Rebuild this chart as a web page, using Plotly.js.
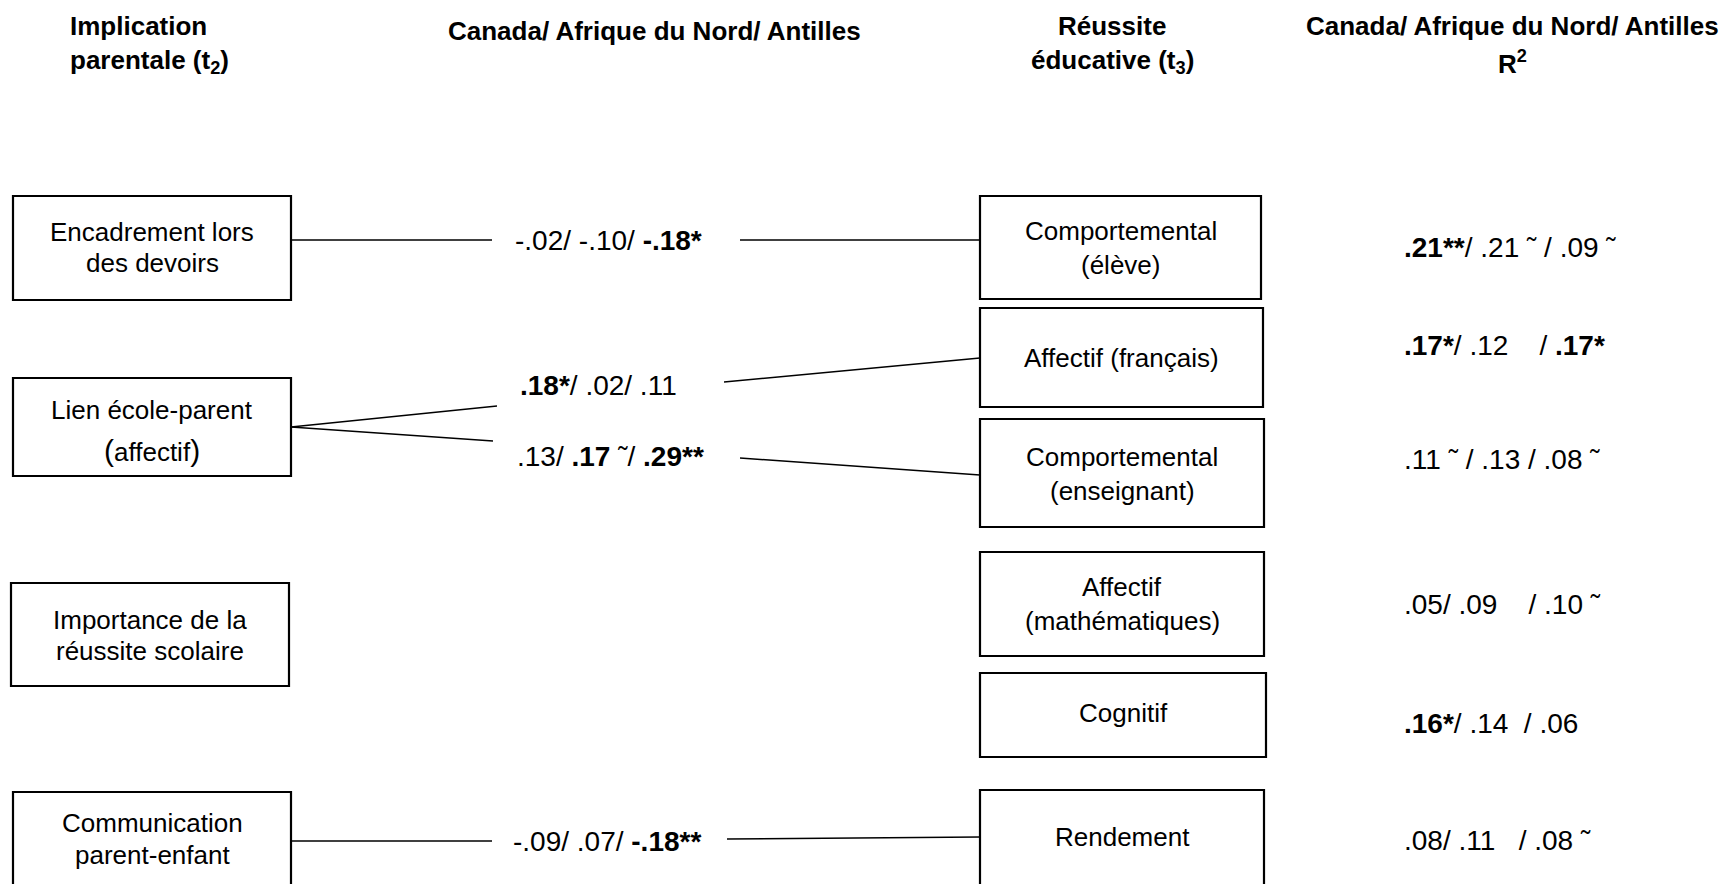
<!DOCTYPE html>
<html><head><meta charset="utf-8">
<script src="https://cdn.plot.ly/plotly-3.0.1.min.js"></script>
<style>html,body{margin:0;padding:0;background:#fff;overflow:hidden}</style>
</head><body><div id="chart" style="width:1728px;height:884px"></div>
<script>
// ---- data ----
const columnHeaders = ['Implication<br>parentale (t<sub>2</sub>)', 'Canada/ Afrique du Nord/ Antilles', 'Réussite<br>éducative (t<sub>3</sub>)', 'Canada/ Afrique du Nord/ Antilles<br>R<sup>2</sup>'];
const predictors = ['Encadrement lors<br>des devoirs', 'Lien école-parent<br>(affectif)', 'Importance de la<br>réussite scolaire', 'Communication<br>parent-enfant'];
const outcomes = ['Comportemental<br>(élève)', 'Affectif (français)', 'Comportemental<br>(enseignant)', 'Affectif<br>(mathématiques)', 'Cognitif', 'Rendement'];
const pathFrom = [0, 1, 1, 3];
const pathTo = [0, 1, 2, 5];
const pathCoefs = ['-.02/ -.10/ <b>-.18*</b>', '<b>.18*</b>/ .02/ .11', '.13/ <b>.17</b> ˜/ <b>.29**</b>', '-.09/ .07/ <b>-.18**</b>'];
const r2Values = ['<b>.21**</b>/ .21 ˜ / .09 ˜', '<b>.17*</b>/ .12\u00A0\u00A0\u00A0 / <b>.17*</b>', '.11 ˜ / .13 / .08 ˜', '.05/ .09\u00A0\u00A0\u00A0 / .10 ˜', '<b>.16*</b>/ .14\u00A0 / .06', '.08/ .11\u00A0\u00A0 / .08 ˜'];

// ---- layout geometry ----
const W = 1728, H = 884;
const FONT = 'Liberation Sans, Arial, sans-serif';
const predBoxes = [
  {x0: 13, x1: 291, y0: 196, y1: 300, lines: [232, 263]},
  {x0: 13, x1: 291, y0: 378, y1: 476, lines: [410, 450]},
  {x0: 11, x1: 289, y0: 583, y1: 686, lines: [620, 651]},
  {x0: 13, x1: 291, y0: 792, y1: 900, lines: [823, 855]}
];
const outBoxes = [
  {x0: 980, x1: 1261, y0: 196, y1: 299, lines: [231, 265]},
  {x0: 980, x1: 1263, y0: 308, y1: 407, lines: [358]},
  {x0: 980, x1: 1264, y0: 419, y1: 527, lines: [457, 491]},
  {x0: 980, x1: 1264, y0: 552, y1: 656, lines: [587, 621]},
  {x0: 980, x1: 1266, y0: 673, y1: 757, lines: [713]},
  {x0: 980, x1: 1264, y0: 790, y1: 900, lines: [837]}
];
const pathGeom = [
  {y0: 240, gapL: [492, 240], label: [608, 240], gapR: [740, 240], y1: 240},
  {y0: 427, gapL: [497, 406], label: [598, 385], gapR: [724, 382], y1: 358},
  {y0: 427, gapL: [493, 441], label: [610, 456], gapR: [740, 458], y1: 475},
  {y0: 841, gapL: [492, 841], label: [607, 841], gapR: [727, 839], y1: 837}
];
const r2X = 1402;
const r2Y = [247, 345, 459, 604, 723, 840];

const shapes = [];
const annotations = [];
function txt(x, y, text, size, anchor, bold) {
  annotations.push({x: x, y: y, xref: 'x', yref: 'y', text: bold ? '<b>' + text + '</b>' : text,
    showarrow: false, xanchor: anchor || 'center', yanchor: 'middle',
    font: {family: FONT, size: size, color: '#000'}});
}
function box(b, label) {
  shapes.push({type: 'rect', xref: 'x', yref: 'y', x0: b.x0, x1: b.x1, y0: b.y0, y1: b.y1,
    line: {color: '#000', width: 2.2}, fillcolor: 'rgba(0,0,0,0)', layer: 'above'});
  const parts = label.split('<br>');
  parts.forEach((p, i) => {
    // the reference draws the parentheses of "(affectif)" slightly larger
    const t = p === '(affectif)' ? '<span style="font-size:30px">(</span>affectif<span style="font-size:30px">)</span>' : p;
    txt((b.x0 + b.x1) / 2, b.lines[i], t, 26);
  });
}
function seg(x0, y0, x1, y1) {
  shapes.push({type: 'line', xref: 'x', yref: 'y', x0: x0, y0: y0, x1: x1, y1: y1,
    line: {color: '#000', width: 1.5}});
}

predictors.forEach((p, i) => box(predBoxes[i], p));
outcomes.forEach((o, i) => box(outBoxes[i], o));

pathCoefs.forEach((c, i) => {
  const g = pathGeom[i];
  const from = predBoxes[pathFrom[i]], to = outBoxes[pathTo[i]];
  seg(from.x1, g.y0, g.gapL[0], g.gapL[1]);
  seg(g.gapR[0], g.gapR[1], to.x0, g.y1);
  txt(g.label[0], g.label[1], c, 28);
});

r2Values.forEach((r, i) => txt(r2X, r2Y[i], r, 28, 'left'));

// headers
const h0 = columnHeaders[0].split('<br>');
txt(68, 26, h0[0], 26, 'left', true);
txt(68, 61, h0[1], 26, 'left', true);
txt(654, 31, columnHeaders[1], 26, 'center', true);
const h2 = columnHeaders[2].split('<br>');
txt(1112, 26, h2[0], 26, 'center', true);
txt(1112, 61, h2[1], 26, 'center', true);
const h3 = columnHeaders[3].split('<br>');
txt(1512, 26, h3[0], 26, 'center', true);
txt(1512, 62, h3[1], 26, 'center', true);

const data = [{x: [], y: [], type: 'scatter', mode: 'markers', hoverinfo: 'skip', showlegend: false}];
const layout = {
  width: W, height: H, margin: {l: 0, r: 0, t: 0, b: 0, pad: 0},
  paper_bgcolor: '#fff', plot_bgcolor: '#fff', showlegend: false,
  xaxis: {range: [0, W], visible: false, fixedrange: true},
  yaxis: {range: [H, 0], visible: false, fixedrange: true},
  shapes: shapes, annotations: annotations
};
Plotly.newPlot('chart', data, layout, {displayModeBar: false, staticPlot: true});
</script></body></html>
